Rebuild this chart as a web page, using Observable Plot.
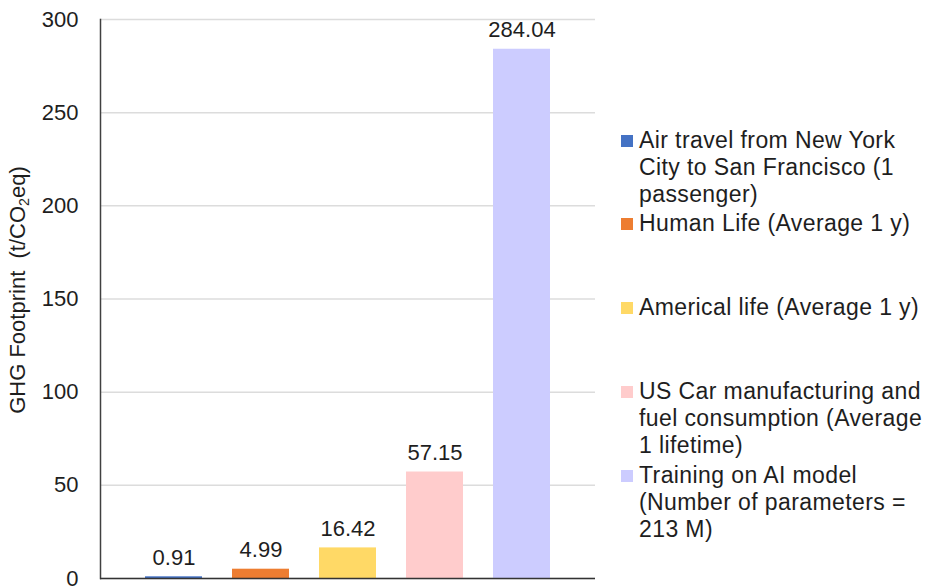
<!DOCTYPE html>
<html>
<head>
<meta charset="utf-8">
<script src="https://cdn.jsdelivr.net/npm/d3@7"></script>
<script src="https://cdn.jsdelivr.net/npm/@observablehq/plot@0.6"></script>
<style>
  body { margin: 0; background: #fff; overflow: hidden; font-family: "Liberation Sans", Arial, sans-serif; color: #1e1e1e; }
  #wrap { position: relative; width: 934px; height: 587px; overflow: hidden; }
  #wrap svg { position: absolute; left: 0; top: 0; }
  .ylab { position: absolute; left: 18px; top: 290px; transform: translate(-50%, -50%) rotate(-90deg);
          white-space: nowrap; font-size: 22px; line-height: 1; }
  .ylab sub { font-size: 0.65em; vertical-align: -0.25em; line-height: 0; }
  .legend-item { position: absolute; left: 621px; white-space: nowrap; font-size: 23px; line-height: 27px; letter-spacing: 0.4px; }
  .legend-item .sw { position: absolute; left: 0; top: 8px; width: 12px; height: 12px; }
  .legend-item .txt { position: absolute; left: 18px; top: 0; }
</style>
</head>
<body>
<div id="wrap"></div>
<script>
// GHG footprint of everyday activities vs. training one AI model
const categories = [
  "Air travel from New York City to San Francisco (1 passenger)",
  "Human Life (Average 1 y)",
  "Americal life (Average 1 y)",
  "US Car manufacturing and fuel consumption (Average 1 lifetime)",
  "Training on AI model (Number of parameters = 213 M)"
];
const footprints = [0.91, 4.99, 16.42, 57.15, 284.04];
const colors = ["#4472C4", "#ED7D31", "#FFD966", "#FFCCCC", "#CCCCFF"];
const yTicks = [0, 50, 100, 150, 200, 250, 300];
const legendLines = [
  ["Air travel from New York", "City to San Francisco (1", "passenger)"],
  ["Human Life (Average 1 y)"],
  ["Americal life (Average 1 y)"],
  ["US Car manufacturing and", "fuel consumption (Average", "1 lifetime)"],
  ["Training on AI model", "(Number of parameters =", "213 M)"]
];

const data = categories.map((c, i) => ({ category: c, value: footprints[i], label: footprints[i].toFixed(2) }));

const chart = Plot.plot({
  width: 934,
  height: 587,
  marginLeft: 100,
  marginRight: 339,
  marginTop: 19,
  marginBottom: 9,
  style: { fontFamily: "'Liberation Sans', Arial, sans-serif", fontSize: "22px", color: "#1e1e1e", background: "transparent" },
  x: { domain: categories, range: [143, 553], paddingInner: 0.34, paddingOuter: 0, axis: null },
  y: { domain: [0, 300], label: null },
  color: { domain: categories, range: colors },
  marks: [
    Plot.gridY(yTicks, { stroke: "#dcdcdc", strokeOpacity: 1, strokeWidth: 1.5 }),
    Plot.axisY(yTicks, { tickSize: 0, tickPadding: 22, fontSize: 22, fill: "#1e1e1e", label: null }),
    Plot.barY(data, { x: "category", y: "value", fill: "category" }),
    Plot.text(data, { x: "category", y: "value", text: "label", dy: -19, lineAnchor: "middle", fontSize: 22, fill: "#1e1e1e", style: "letter-spacing:0.3px" }),
    Plot.frame({ anchor: "left", stroke: "#404040", strokeWidth: 1.5 }),
    Plot.ruleY([0], { stroke: "#333", strokeWidth: 1.5 })
  ]
});

const wrap = document.getElementById("wrap");
wrap.appendChild(chart);

// rotated axis title with a real subscript
const ylab = document.createElement("div");
ylab.className = "ylab";
ylab.innerHTML = "GHG Footprint&nbsp;&nbsp;(t/CO<sub>2</sub>eq)";
wrap.appendChild(ylab);

// legend, entries evenly spaced down the right side
legendLines.forEach((lines, i) => {
  const item = document.createElement("div");
  item.className = "legend-item";
  item.style.top = (126.5 + i * 83.8) + "px";
  const sw = document.createElement("div");
  sw.className = "sw";
  sw.style.background = colors[i];
  const txt = document.createElement("div");
  txt.className = "txt";
  txt.innerHTML = lines.map(l => l.replace(/&/g, "&amp;").replace(/</g, "&lt;")).join("<br>");
  item.appendChild(sw);
  item.appendChild(txt);
  wrap.appendChild(item);
});
</script>
</body>
</html>
